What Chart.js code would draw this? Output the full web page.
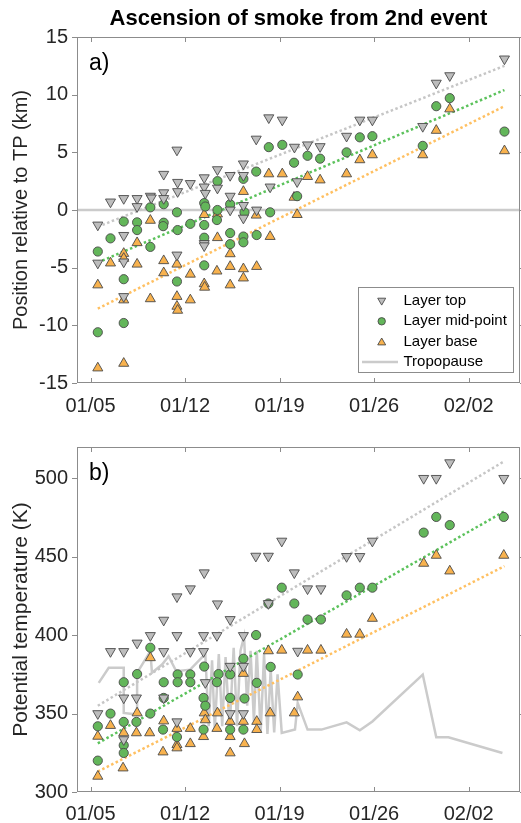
<!DOCTYPE html>
<html>
<head>
<meta charset="utf-8">
<title>Ascension of smoke from 2nd event</title>
<script src="https://cdn.jsdelivr.net/npm/chart.js@4.4.1/dist/chart.umd.min.js"></script>
<style>
  html, body { margin: 0; padding: 0; background: #fff; }
  #wrap { position: relative; width: 521px; height: 823px; }
  .panel { position: absolute; left: 0; width: 521px; }
  #pa { top: 0; height: 430px; }
  #pb { top: 430px; height: 393px; }
</style>
</head>
<body>
<div id="wrap">
  <div class="panel" id="pa"><canvas id="chartA"></canvas></div>
  <div class="panel" id="pb"><canvas id="chartB"></canvas></div>
</div>
<script>
// ===================== DATA =====================
// x = days since 01/05 (00:00)
const X_MIN = -1;
const X_MAX = 31.8;
const dateTicks = [0, 7, 14, 21, 28];
const dateLabels = ["01/05", "01/12", "01/19", "01/26", "02/02"];
const kmTicks = [-15, -10, -5, 0, 5, 10, 15];
const thetaTicks = [300, 350, 400, 450, 500];

// panel a) : position relative to tropopause (km)
const topA = [
  [0.54, -1.3], [0.54, -4.6], [1.48, 0.7],
  [2.46, 1.0], [2.46, -2.2], [2.46, -4.5], [2.46, -7.5],
  [3.45, 1.0], [3.45, 0.3], [4.43, 1.2], [4.5, 1.05],
  [5.42, 3.1], [5.42, 1.5], [5.42, 1.0],
  [6.4, 5.2], [6.45, 2.4], [6.45, 1.6], [6.4, -3.9],
  [7.39, 2.3],
  [8.42, 2.8], [8.42, 2.0], [8.5, 1.45], [8.42, -2.9], [8.42, -3.1],
  [9.4, 3.5], [9.4, 1.9],
  [10.34, 3.0], [10.34, 1.2], [10.34, 0.0],
  [11.32, 4.0], [11.32, 3.0], [11.32, 0.4], [11.32, -0.7],
  [12.27, 6.15], [12.3, 0.0], [13.2, 8.0], [13.3, 2.0], [14.2, 7.8],
  [15.1, 5.45], [15.3, 2.46], [16.07, 5.65], [17.0, 5.5], [18.96, 6.4],
  [19.94, 7.8], [20.87, 7.8], [24.6, 7.25], [25.6, 11.0], [26.6, 11.65], [30.65, 13.1]
];
const midA = [
  [0.54, -3.6], [0.54, -10.6], [1.48, -2.46],
  [2.46, -1.0], [2.46, -6.0], [2.46, -9.8],
  [3.45, -1.07], [3.45, -1.74], [4.43, 0.23], [4.43, -3.2],
  [5.42, 0.5], [5.42, -1.1], [5.38, -1.4],
  [6.4, -0.2], [6.45, -1.74], [6.4, -6.2],
  [7.39, -1.2],
  [8.42, 0.6], [8.5, 0.3], [8.42, -1.3], [8.42, -2.4], [8.42, -4.8],
  [9.4, 2.5], [9.4, 0.0], [9.36, -0.87],
  [10.34, 0.5], [10.34, -2.0], [10.34, -2.96],
  [11.32, 2.7], [11.4, -0.2], [11.32, -2.3], [11.32, -2.8],
  [12.27, 3.33], [12.3, -2.17], [13.2, 5.45], [13.3, -0.2], [14.2, 5.65],
  [15.07, 4.1], [15.3, 1.2], [16.07, 4.7], [17.0, 4.45], [18.96, 5.0],
  [19.94, 6.3], [20.87, 6.4], [24.6, 5.56], [25.6, 9.0], [26.6, 9.7], [30.65, 6.8]
];
const baseA = [
  [0.54, -6.5], [0.54, -13.7], [1.48, -4.6],
  [2.46, -3.77], [2.46, -4.2], [2.46, -7.8], [2.46, -13.3],
  [3.45, -2.84], [3.45, -4.7], [4.43, -0.9], [4.43, -7.7],
  [5.42, -4.4], [5.42, -5.45],
  [6.4, -4.7], [6.4, -7.5], [6.4, -8.35], [6.45, -8.7],
  [7.39, -5.57], [7.39, -7.8],
  [8.42, -0.4], [8.42, -6.4], [8.45, -6.7],
  [9.4, -0.35], [9.4, -2.4], [9.36, -5.3],
  [10.34, -3.8], [10.34, -4.9], [10.34, -6.5],
  [11.32, 1.6], [11.32, -5.1], [11.32, -5.9],
  [12.27, -0.45], [12.3, -4.9], [13.2, 3.13], [13.3, -2.3], [14.2, 3.13],
  [15.07, 1.1], [15.3, -0.4], [16.07, 2.9], [17.0, 2.6], [18.96, 3.13],
  [19.94, 4.35], [20.87, 4.78], [24.6, 4.78], [25.6, 6.9], [26.6, 8.76], [30.65, 5.13]
];
const tropoA = [[X_MIN, 0], [X_MAX, 0]];

// panel b) : potential temperature (K)
const topB = [
  [0.54, 350], [1.48, 389.6],
  [2.46, 389.6], [2.46, 360], [2.46, 333.4],
  [3.45, 395], [3.4, 360], [4.43, 399.8],
  [5.42, 409.6], [5.42, 389.6], [5.42, 360],
  [6.4, 424.5], [6.4, 399.8], [6.4, 344.8],
  [7.39, 429.6], [7.39, 389.6],
  [8.42, 439.8], [8.37, 399.8], [8.37, 389.6], [8.5, 369.8],
  [9.4, 420], [9.36, 399.8],
  [10.34, 410], [10.34, 380.2], [10.34, 350],
  [11.32, 399.8], [11.32, 380.2], [11.32, 350],
  [12.24, 450.4], [13.17, 450.4], [13.17, 420.2], [14.16, 460],
  [15.09, 439.8], [15.34, 389.8], [16.07, 429.6], [17.06, 429.6], [18.96, 450.2],
  [19.94, 450.2], [20.87, 460], [24.67, 500], [25.6, 500], [26.6, 510], [30.6, 500]
];
const midB = [
  [0.54, 341.9], [0.54, 320], [1.48, 350],
  [2.46, 370], [2.46, 344.7], [2.46, 329.8], [2.46, 324.9],
  [3.45, 375.2], [3.4, 344.7], [4.43, 392], [4.43, 350],
  [5.42, 370], [5.42, 360], [5.37, 339.8],
  [6.45, 375], [6.45, 370], [6.4, 335.1],
  [7.39, 375], [7.39, 370],
  [8.42, 380], [8.37, 360], [8.5, 355], [8.37, 339.8],
  [9.48, 375.2], [9.36, 370],
  [10.34, 375], [10.34, 360], [10.34, 339.8],
  [11.32, 385], [11.4, 359.6], [11.32, 339.8],
  [12.26, 400.1], [12.31, 369.6], [13.17, 420.2], [13.34, 379.8], [14.16, 430.3],
  [15.09, 420.2], [15.34, 374.9], [16.07, 410], [17.06, 410], [18.96, 425.4],
  [19.94, 430.3], [20.87, 430.3], [24.67, 465.4], [25.6, 475.4], [26.6, 470.2], [30.6, 475.4]
];
const baseB = [
  [0.54, 335.5], [0.54, 310], [1.48, 342.4],
  [2.46, 337.7], [2.41, 315.3],
  [3.45, 350.4], [3.4, 337.7], [4.43, 385.6], [4.38, 337.7],
  [5.42, 345.3], [5.37, 325.5],
  [6.4, 340.5], [6.4, 330.2], [6.4, 328.1],
  [7.39, 340.5], [7.39, 330.8],
  [8.42, 350.4], [8.5, 346], [8.37, 335.3],
  [9.4, 350.4], [9.36, 340.5],
  [10.34, 345], [10.34, 335.3], [10.34, 324.9],
  [11.32, 375.6], [11.32, 345], [11.4, 330.8],
  [12.31, 345], [12.31, 339.8], [13.17, 390], [13.3, 350.4], [14.16, 390.4],
  [15.09, 350.4], [15.34, 360.6], [16.07, 390.4], [17.06, 390.4], [18.96, 400.6],
  [19.94, 400.6], [20.87, 410.7], [24.67, 445.8], [25.6, 450.9], [26.6, 440.9], [30.6, 450.9]
];
const tropoB = [
  [0.61, 369.6], [1.35, 379.2], [2.46, 379.2], [2.46, 350.4], [3.45, 349.4], [3.45, 376],
  [4.43, 389.8], [4.55, 376], [5.3, 381.3], [5.78, 386.6], [6.35, 377], [7.38, 378],
  [8.5, 388], [8.75, 342], [9.0, 384], [9.2, 340], [9.5, 388], [9.75, 342], [10.0, 386],
  [10.3, 340], [10.6, 392], [10.85, 342], [11.1, 390], [11.37, 399], [11.6, 355],
  [11.85, 390], [12.1, 345], [12.31, 390], [12.6, 338], [12.85, 388], [13.1, 337],
  [13.34, 378], [13.6, 338], [13.85, 375], [14.16, 337.7], [15.14, 339.8], [15.34, 356.8],
  [16.07, 339.8], [17.1, 339.8], [18.96, 344.4], [19.94, 339.3], [20.87, 345],
  [24.6, 374.9], [25.6, 334.9], [26.5, 334.9], [30.5, 324.9]
];

// linear fits (end points)
const fitDays = [0.54, 30.65];
const fitTopA = [-1.45, 12.5];
const fitMidA = [-4.55, 10.4];
const fitBaseA = [-8.55, 9.0];
const fitTopB = [355, 511];
const fitMidB = [331, 479];
const fitBaseB = [313, 444];

// ===================== STYLE =====================
const FONT = "'Liberation Sans', Arial, Helvetica, sans-serif";
const TXT = "#262626";
const EDGE = "#4a4a4a";
const GREY_FILL = "#bdbdbd";
const GREEN_FILL = "#63b65a";
const ORANGE_FILL = "#f8b24e";
const TP_COL = "#cbcbcb";
const FIT_GREY = "#c6c6c6";
const FIT_GREEN = "#5cc25c";
const FIT_ORANGE = "#ffc062";
const TRI_R = 5.8;
const DOT_R = 4.6;

// ===================== HELPERS =====================
const pts = arr => arr.map(([x, y]) => ({ x, y }));
const fitPts = vals => fitDays.map((d, i) => ({ x: d, y: vals[i] }));

function markerSet(label, data, fill, style, rot, r, order) {
  return {
    label, data: pts(data), order,
    pointStyle: style, rotation: rot, radius: r,
    backgroundColor: fill, borderColor: EDGE, borderWidth: 0.9,
    showLine: false
  };
}

function lineSet(label, data, color, dash, order) {
  return {
    label, data, order,
    showLine: true, pointRadius: 0,
    borderColor: color, borderWidth: 2.5, borderDash: dash,
    borderCapStyle: "butt", fill: false, tension: 0
  };
}

// box, x ticks inside, y ticks outside (as in the original)
const framePlugin = {
  id: "frame",
  afterDatasetsDraw(chart) {
    const { ctx, chartArea: a, scales: { x, y } } = chart;
    ctx.save();
    ctx.strokeStyle = "#8c8c8c";
    ctx.lineWidth = 1;
    ctx.strokeRect(a.left + 0.5, a.top + 0.5, a.right - a.left - 1, a.bottom - a.top - 1);
    ctx.beginPath();
    x.ticks.forEach(t => {
      const px = Math.round(x.getPixelForValue(t.value)) + 0.5;
      ctx.moveTo(px, a.bottom); ctx.lineTo(px, a.bottom - 5);
      ctx.moveTo(px, a.top); ctx.lineTo(px, a.top + 5);
    });
    y.ticks.forEach(t => {
      const py = Math.round(y.getPixelForValue(t.value)) + 0.5;
      ctx.moveTo(a.left - 5, py); ctx.lineTo(a.left, py);
      ctx.moveTo(a.right, py); ctx.lineTo(a.right + 5, py);
    });
    ctx.stroke();
    ctx.restore();
  }
};

function tagPlugin(text) {
  return {
    id: "tag",
    afterDatasetsDraw(chart) {
      const { ctx, chartArea: a } = chart;
      ctx.save();
      ctx.fillStyle = "#000";
      ctx.font = "23px " + FONT;
      ctx.textBaseline = "alphabetic";
      ctx.fillText(text, a.left + 12, a.top + 33);
      ctx.restore();
    }
  };
}

const titlePlugin = {
  id: "maintitle",
  afterDraw(chart) {
    const { ctx, chartArea: a } = chart;
    ctx.save();
    ctx.fillStyle = "#000";
    ctx.font = "bold 22px " + FONT;
    ctx.textAlign = "center";
    ctx.textBaseline = "alphabetic";
    ctx.fillText("Ascension of smoke from 2nd event", (a.left + a.right) / 2, 25);
    ctx.restore();
  }
};

function drawMark(ctx, kind, x, y, r) {
  ctx.beginPath();
  if (kind === "circle") {
    ctx.arc(x, y, r, 0, Math.PI * 2);
  } else {
    const s = kind === "down" ? -1 : 1;
    ctx.moveTo(x, y - s * r);
    ctx.lineTo(x + r * 0.866, y + s * r * 0.5);
    ctx.lineTo(x - r * 0.866, y + s * r * 0.5);
    ctx.closePath();
  }
  ctx.fill();
  ctx.stroke();
}

const legendPlugin = {
  id: "boxlegend",
  afterDraw(chart) {
    const ctx = chart.ctx;
    const bx = 358.5, by = 287.5, bw = 155, bh = 85;
    const rows = [
      { kind: "down", fill: GREY_FILL, text: "Layer top" },
      { kind: "circle", fill: GREEN_FILL, text: "Layer mid-point" },
      { kind: "up", fill: ORANGE_FILL, text: "Layer base" },
      { kind: "line", text: "Tropopause" }
    ];
    ctx.save();
    ctx.fillStyle = "#fff";
    ctx.fillRect(bx, by, bw, bh);
    ctx.strokeStyle = "#8c8c8c";
    ctx.lineWidth = 1;
    ctx.strokeRect(bx, by, bw, bh);
    ctx.font = "15px " + FONT;
    ctx.textBaseline = "middle";
    rows.forEach((r, i) => {
      const ry = 301 + i * 20.3;
      if (r.kind === "line") {
        ctx.strokeStyle = TP_COL;
        ctx.lineWidth = 2.5;
        ctx.beginPath();
        ctx.moveTo(362, ry); ctx.lineTo(398, ry);
        ctx.stroke();
      } else {
        ctx.fillStyle = r.fill;
        ctx.strokeStyle = EDGE;
        ctx.lineWidth = 0.9;
        drawMark(ctx, r.kind, 381.7, ry + (r.kind === "down" ? -0.5 : r.kind === "up" ? 1 : 0), r.kind === "circle" ? 3.7 : 4.6);
      }
      ctx.fillStyle = "#000";
      ctx.fillText(r.text, 403.5, ry);
    });
    ctx.restore();
  }
};

// ===================== PANELS =====================
function makePanel(id, o) {
  return new Chart(document.getElementById(id), {
    type: "scatter",
    data: {
      datasets: [
        markerSet("Layer top", o.top, GREY_FILL, "triangle", 180, TRI_R, 1),
        markerSet("Layer mid-point", o.mid, GREEN_FILL, "circle", 0, DOT_R, 2),
        markerSet("Layer base", o.base, ORANGE_FILL, "triangle", 0, TRI_R, 3),
        lineSet("fit top", fitPts(o.fitTop), FIT_GREY, [2.5, 2.5], 7),
        lineSet("fit mid", fitPts(o.fitMid), FIT_GREEN, [2.5, 2.5], 8),
        lineSet("fit base", fitPts(o.fitBase), FIT_ORANGE, [2.5, 2.5], 9),
        lineSet("Tropopause", pts(o.tropo), TP_COL, [], 10)
      ]
    },
    options: {
      responsive: true,
      maintainAspectRatio: false,
      animation: false,
      events: [],
      layout: { autoPadding: false, padding: { top: o.padTop, left: 0, right: 1, bottom: 0 } },
      plugins: { legend: { display: false }, tooltip: { enabled: false } },
      scales: {
        x: {
          type: "linear", min: X_MIN, max: X_MAX, bounds: "data",
          grid: { display: false }, border: { display: false },
          afterBuildTicks: s => { s.ticks = dateTicks.map(v => ({ value: v })); },
          afterFit: s => { s.height = o.xAxisH; },
          ticks: {
            padding: o.xPad, autoSkip: false, maxRotation: 0, color: TXT,
            font: { size: 20, family: FONT },
            callback: v => dateLabels[dateTicks.indexOf(v)] ?? ""
          }
        },
        y: {
          type: "linear", min: o.yMin, max: o.yMax, bounds: "data",
          grid: { display: false }, border: { display: false },
          afterBuildTicks: s => { s.ticks = o.yTicks.map(v => ({ value: v })); },
          afterFit: s => { s.width = 77; },
          ticks: { padding: 1, color: TXT, font: { size: 20, family: FONT }, callback: v => String(v) },
          title: {
            display: true, text: o.yTitle, color: TXT,
            font: { size: o.yTitleSize, family: FONT }, padding: { top: 9, bottom: 0 }
          }
        }
      }
    },
    plugins: [framePlugin].concat(o.extra)
  });
}

makePanel("chartA", {
  top: topA, mid: midA, base: baseA, tropo: tropoA,
  fitTop: fitTopA, fitMid: fitMidA, fitBase: fitBaseA,
  yMin: -15, yMax: 15, yTicks: kmTicks,
  yTitle: "Position relative to TP (km)", yTitleSize: 20,
  padTop: 37, xAxisH: 47, xPad: 3,
  extra: [tagPlugin("a)"), titlePlugin, legendPlugin]
});

makePanel("chartB", {
  top: topB, mid: midB, base: baseB, tropo: tropoB,
  fitTop: fitTopB, fitMid: fitMidB, fitBase: fitBaseB,
  yMin: 300, yMax: 520, yTicks: thetaTicks,
  yTitle: "Potential temperature (K)", yTitleSize: 21,
  padTop: 17, xAxisH: 31, xPad: 2,
  extra: [tagPlugin("b)")]
});
</script>
</body>
</html>
